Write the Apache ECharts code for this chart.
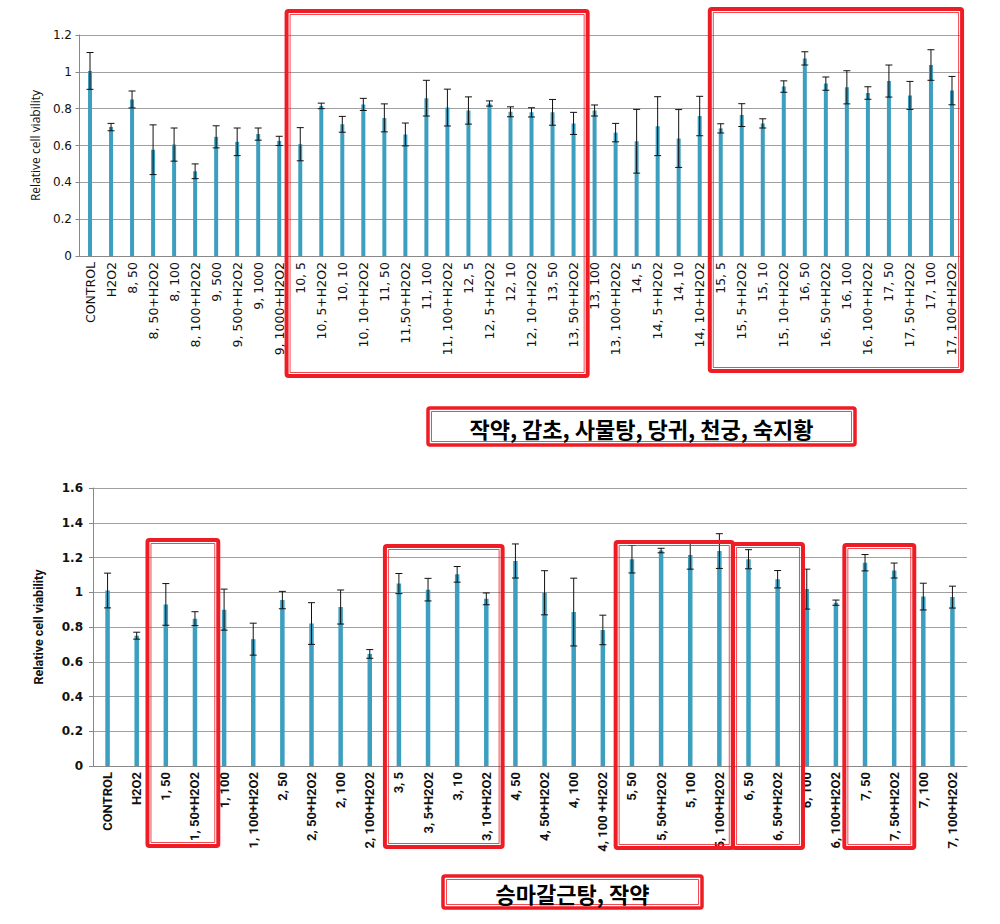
<!DOCTYPE html>
<html>
<head>
<meta charset="utf-8">
<script src="https://cdn.jsdelivr.net/npm/echarts@6/dist/echarts.min.js"></script>
<style>
  html, body { margin: 0; padding: 0; background: #fff; }
  #chart { width: 1000px; height: 924px; }
</style>
</head>
<body>
<div id="chart"></div>
<script>
// top panel: 작약, 감초, 사물탕, 당귀, 천궁, 숙지황
const topCategories = [
  'CONTROL', 'H2O2', '8, 50', '8, 50+H2O2', '8, 100', '8, 100+H2O2',
  '9, 500', '9, 500+H2O2', '9, 1000', '9, 1000+H2O2',
  '10, 5', '10, 5+H2O2', '10, 10', '10, 10+H2O2',
  '11, 50', '11,50+H2O2', '11, 100', '11, 100+H2O2',
  '12, 5', '12, 5+H2O2', '12, 10', '12, 10+H2O2',
  '13, 50', '13, 50+H2O2', '13, 100', '13, 100+H2O2',
  '14, 5', '14, 5+H2O2', '14, 10', '14, 10+H2O2',
  '15, 5', '15, 5+H2O2', '15, 10', '15, 10+H2O2',
  '16, 50', '16, 50+H2O2', '16, 100', '16, 100+H2O2',
  '17, 50', '17, 50+H2O2', '17, 100', '17, 100+H2O2'
];
const topMeans = [
  1.005, 0.70, 0.85, 0.577, 0.605, 0.46,
  0.647, 0.62, 0.662, 0.625,
  0.607, 0.815, 0.715, 0.823,
  0.75, 0.66, 0.857, 0.806,
  0.79, 0.828, 0.783, 0.78,
  0.78, 0.72, 0.79, 0.67,
  0.623, 0.705, 0.638, 0.76,
  0.693, 0.765, 0.72, 0.92,
  1.073, 0.936, 0.916, 0.885,
  0.95, 0.872, 1.037, 0.898
];
const topErrors = [
  0.10, 0.02, 0.046, 0.135, 0.09, 0.04,
  0.06, 0.075, 0.033, 0.025,
  0.09, 0.015, 0.043, 0.033,
  0.076, 0.062, 0.097, 0.10,
  0.074, 0.014, 0.027, 0.025,
  0.07, 0.06, 0.03, 0.05,
  0.173, 0.16, 0.157, 0.107,
  0.025, 0.062, 0.025, 0.031,
  0.036, 0.036, 0.09, 0.034,
  0.087, 0.076, 0.083, 0.077
];
const topTicks = [0, 0.2, 0.4, 0.6, 0.8, 1, 1.2];

// bottom panel: 승마갈근탕, 작약
const bottomCategories = [
  'CONTROL', 'H2O2', '1, 50', '1, 50+H2O2', '1, 100', '1, 100+H2O2',
  '2, 50', '2, 50+H2O2', '2, 100', '2, 100+H2O2',
  '3, 5', '3, 5+H2O2', '3, 10', '3, 10+H2O2',
  '4, 50', '4, 50+H2O2', '4, 100', '4, 100 +H2O2',
  '5, 50', '5, 50+H2O2', '5, 100', '5, 100+H2O2',
  '6, 50', '6, 50+H2O2', '6, 100', '6, 100+H2O2',
  '7, 50', '7, 50+H2O2', '7, 100', '7, 100+H2O2'
];
const bottomMeans = [
  1.01, 0.75, 0.93, 0.848, 0.90, 0.73,
  0.955, 0.82, 0.915, 0.645,
  1.05, 1.015, 1.103, 0.962,
  1.18, 0.997, 0.886, 0.783,
  1.19, 1.24, 1.215, 1.237,
  1.19, 1.075, 1.018, 0.94,
  1.17, 1.125, 0.975, 0.972
];
const bottomErrors = [
  0.10, 0.02, 0.12, 0.04, 0.118, 0.092,
  0.05, 0.12, 0.098, 0.025,
  0.058, 0.065, 0.045, 0.034,
  0.098, 0.127, 0.195, 0.085,
  0.079, 0.013, 0.082, 0.10,
  0.055, 0.05, 0.115, 0.015,
  0.047, 0.043, 0.077, 0.063
];
const bottomTicks = [0, 0.2, 0.4, 0.6, 0.8, 1, 1.2, 1.4, 1.6];

const topLabel = '작약, 감초, 사물탕, 당귀, 천궁, 숙지황';
const bottomLabel = '승마갈근탕, 작약';

const BAR = '#3d9fbf';
const RED = '#ee1c25';
const GRID_LINE = '#a0a0a0';
const NARROW = 'Roboto';

// highlight boxes: first/last category index, extra band fraction each side, pixel top/bottom
const topBoxes = [
  { from: 10, to: 23, padL: 0.65, padR: 0.67, top: 11, bottom: 376 },
  { from: 30, to: 41, padL: 0.52, padR: 0.48, top: 9, bottom: 371 }
];
const bottomBoxes = [
  { from: 2, to: 3, padL: 0.63, padR: 0.80, top: 540, bottom: 846 },
  { from: 10, to: 13, padL: 0.48, padR: 0.56, top: 546, bottom: 847 },
  { from: 18, to: 21, padL: 0.56, padR: 0.46, top: 542, bottom: 848 },
  { from: 22, to: 23, padL: 0.53, padR: 0.87, top: 544, bottom: 848 },
  { from: 26, to: 27, padL: 0.71, padR: 0.69, top: 545, bottom: 848 }
];

function errorItems(means, errors) {
  return means.map((m, i) => [i, m, errors[i]]);
}

function renderErrorBar(params, api) {
  const x = api.value(0);
  const m = api.value(1);
  const e = api.value(2);
  const hi = api.coord([x, m + e]);
  const lo = api.coord([x, m - e]);
  const cap = 3.5;
  const style = { stroke: '#111', lineWidth: 1 };
  return {
    type: 'group',
    children: [
      { type: 'line', shape: { x1: hi[0], y1: hi[1], x2: lo[0], y2: lo[1] }, style },
      { type: 'line', shape: { x1: hi[0] - cap, y1: hi[1], x2: hi[0] + cap, y2: hi[1] }, style },
      { type: 'line', shape: { x1: lo[0] - cap, y1: lo[1], x2: lo[0] + cap, y2: lo[1] }, style }
    ]
  };
}

function fmtTick(v) {
  return String(Math.round(v * 10) / 10);
}

const chart = echarts.init(document.getElementById('chart'), null, { renderer: 'svg' });

const option = {
  backgroundColor: '#fff',
  animation: false,
  grid: [
    { left: 79.5, top: 35, width: 883, height: 221 },
    { left: 93, top: 488, width: 874, height: 278 }
  ],
  xAxis: [
    {
      gridIndex: 0,
      type: 'category',
      data: topCategories,
      boundaryGap: true,
      axisLine: { lineStyle: { color: '#888' } },
      axisTick: { interval: 0, length: 4, lineStyle: { color: '#888' } },
      axisLabel: {
        interval: 0, rotate: 90, margin: 6,
        fontFamily: 'DejaVu Sans', fontSize: 12.5, color: '#111'
      }
    },
    {
      gridIndex: 1,
      type: 'category',
      data: bottomCategories,
      boundaryGap: true,
      axisLine: { lineStyle: { color: '#888' } },
      axisTick: { interval: 0, length: 4, lineStyle: { color: '#888' } },
      axisLabel: {
        interval: 0, rotate: 90, margin: 6,
        fontFamily: NARROW, fontWeight: 'bold', fontSize: 13, color: '#111'
      }
    }
  ],
  yAxis: [
    {
      gridIndex: 0,
      type: 'value',
      min: topTicks[0],
      max: topTicks[topTicks.length - 1],
      interval: 0.2,
      name: 'Relative cell viability',
      nameLocation: 'middle',
      nameGap: 38,
      nameTextStyle: { fontFamily: 'Open Sans', fontSize: 12, color: '#111' },
      axisLine: { show: true, lineStyle: { color: '#888' } },
      axisTick: { show: true, length: 4, lineStyle: { color: '#888' } },
      axisLabel: {
        margin: 7.5, fontFamily: 'DejaVu Sans', fontSize: 12, color: '#111',
        formatter: fmtTick
      },
      splitLine: { lineStyle: { color: GRID_LINE } }
    },
    {
      gridIndex: 1,
      type: 'value',
      min: bottomTicks[0],
      max: bottomTicks[bottomTicks.length - 1],
      interval: 0.2,
      name: 'Relative cell viability',
      nameLocation: 'middle',
      nameGap: 48,
      nameTextStyle: {
        fontFamily: NARROW, fontWeight: 'bold', fontSize: 12.5, color: '#111'
      },
      axisLine: { show: true, lineStyle: { color: '#888' } },
      axisTick: { show: true, length: 4, lineStyle: { color: '#888' } },
      axisLabel: {
        margin: 10, fontFamily: 'DejaVu Sans', fontWeight: 'bold', fontSize: 12, color: '#111',
        formatter: fmtTick
      },
      splitLine: { lineStyle: { color: GRID_LINE } }
    }
  ],
  series: [
    {
      name: 'top',
      type: 'bar',
      xAxisIndex: 0,
      yAxisIndex: 0,
      data: topMeans,
      barWidth: 4,
      itemStyle: { color: BAR }
    },
    {
      name: 'top error',
      type: 'custom',
      xAxisIndex: 0,
      yAxisIndex: 0,
      data: errorItems(topMeans, topErrors),
      encode: { x: 0, y: 1 },
      renderItem: renderErrorBar,
      z: 5
    },
    {
      name: 'bottom',
      type: 'bar',
      xAxisIndex: 1,
      yAxisIndex: 1,
      data: bottomMeans,
      barWidth: 4.5,
      itemStyle: { color: BAR }
    },
    {
      name: 'bottom error',
      type: 'custom',
      xAxisIndex: 1,
      yAxisIndex: 1,
      data: errorItems(bottomMeans, bottomErrors),
      encode: { x: 0, y: 1 },
      renderItem: renderErrorBar,
      z: 5
    }
  ]
};

chart.setOption(option);

/**
 * Double red frame: thick outer line with a thin inner line
 */
function doubleFrame(x, y, w, h, outer, inset) {
  return [
    {
      type: 'rect',
      shape: { x, y, width: w, height: h, r: 2 },
      style: { fill: 'none', stroke: RED, lineWidth: outer },
      z: 100
    },
    {
      type: 'rect',
      shape: { x: x + inset, y: y + inset, width: w - 2 * inset, height: h - 2 * inset },
      style: { fill: 'none', stroke: RED, lineWidth: 1, opacity: 0.8 },
      z: 100
    }
  ];
}

function boxGraphics(boxes, axisIndex) {
  const out = [];
  const p0 = chart.convertToPixel({ xAxisIndex: axisIndex }, 0);
  const p1 = chart.convertToPixel({ xAxisIndex: axisIndex }, 1);
  const band = p1 - p0;
  boxes.forEach(b => {
    const left = chart.convertToPixel({ xAxisIndex: axisIndex }, b.from) - b.padL * band;
    const right = chart.convertToPixel({ xAxisIndex: axisIndex }, b.to) + b.padR * band;
    out.push(...doubleFrame(left, b.top, right - left, b.bottom - b.top, 4, 3.5));
  });
  return out;
}

function labelBox(text, x, y, w, h, fontSize) {
  return [
    { type: 'rect', shape: { x, y, width: w, height: h }, style: { fill: '#fff' }, z: 99 },
    ...doubleFrame(x, y, w, h, 3.5, 3.5),
    {
      type: 'text',
      x: x + w / 2,
      y: y + h / 2 + 1,
      style: {
        text,
        fill: '#000',
        font: `bold ${fontSize}px "Noto Sans CJK KR"`,
        textAlign: 'center',
        textVerticalAlign: 'middle',
        align: 'center',
        verticalAlign: 'middle'
      },
      z: 101
    }
  ];
}

chart.setOption({
  graphic: [
    ...boxGraphics(topBoxes, 0),
    ...boxGraphics(bottomBoxes, 1),
    ...labelBox(topLabel, 428, 408, 427, 37, 22),
    ...labelBox(bottomLabel, 443, 876, 259, 32, 22)
  ]
});
</script>
</body>
</html>
